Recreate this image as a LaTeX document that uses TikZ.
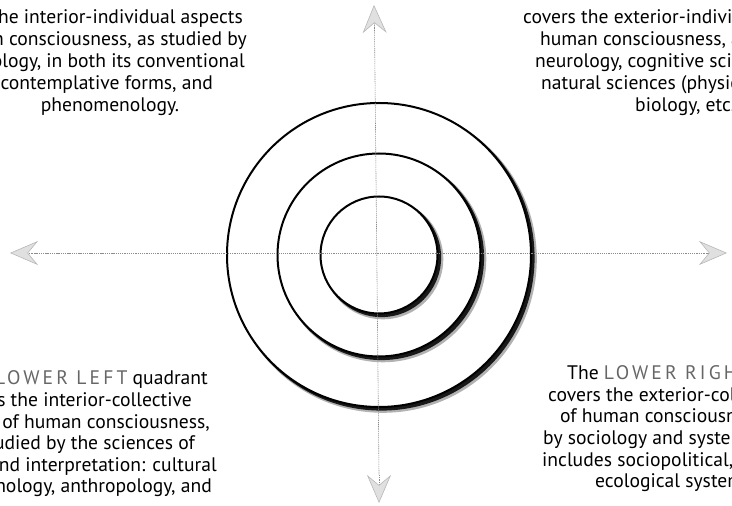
\documentclass[tikz,border=0pt]{standalone}
\usepackage{fontspec}
\setmainfont{PT Sans}
\newfontfamily\capsfont{PT Sans}[LetterSpace=16]
\usetikzlibrary{arrows.meta,calc}
\newcommand{\capsword}[1]{{\capsfont\color{black!60}#1}}
\begin{document}
\begin{tikzpicture}[x=1pt,y=1pt,
  txt/.style={inner sep=0pt, font=\fontsize{19.6}{22}\selectfont},
  axisline/.style={black!45, line width=0.6pt, dash pattern=on 1.3pt off 0.9pt},
  tiphead/.style={-{Stealth[length=28pt,width=24pt,inset=10pt,color=black!28,fill=black!12,line width=0.6pt]}},
  ringline/.style={line width=2pt, black}]
\useasboundingbox (0,0) rectangle (732,506);
\clip (0,0) rectangle (732,506);

\coordinate (c) at (379,251);

% rings with shadow on the lower right
\foreach \r in {152,101.5,58.5}{
  \fill[black!30] ($(c)+(4,-4)$) circle ({\r+1.8});
  \fill[black!90] ($(c)+(2.5,-2.5)$) circle ({\r+1.1});
  \fill[white] (c) circle (\r);
  \draw[ringline] (c) circle (\r);
}

% axes
\coordinate (axL) at (32,253);
\coordinate (axR) at (704,253);
\coordinate (axT) at (374.5,478);
\coordinate (axB) at (379,31);
\coordinate (tipL) at (10,253);
\coordinate (tipR) at (727,253);
\coordinate (tipT) at (374,501);
\coordinate (tipB) at (379,3);
\draw[axisline] (axL) -- (axR);
\draw[axisline] (axT) -- (axB);
\draw[axisline,tiphead] (axL) -- (tipL);
\draw[axisline,tiphead] (axR) -- (tipR);
\draw[axisline,tiphead] (axT) -- (tipT);
\draw[axisline,tiphead] (axB) -- (tipB);

% upper left
\node[txt,anchor=base east] (ul1) at (243,482) {the interior-individual aspects};
\node[txt,anchor=base east] (ul2) at (247,460) {human consciousness, as studied by};
\node[txt,anchor=base east] (ul3) at (245,438) {psychology, in both its conventional};
\node[txt,anchor=base east] (ul4) at (213,416) {contemplative forms, and};
\node[txt,anchor=base] (ul5) at (110,394) {phenomenology.};

% upper right
\node[txt,anchor=base west] (ur1) at (523,482) {covers the exterior-individual};
\node[txt,anchor=base west] (ur2) at (540,460) {human consciousness, as};
\node[txt,anchor=base west] (ur3) at (535,438) {neurology, cognitive science,};
\node[txt,anchor=base west] (ur4) at (541,416) {natural sciences (physics,};
\node[txt,anchor=base west] (ur5) at (635,394) {biology, etc.).};

% lower left
\node[txt,anchor=base east] (ll1) at (208,121) {\capsword{LOWER LEFT} quadrant};
\node[txt,anchor=base east] (ll2) at (192,99) {covers the interior-collective};
\node[txt,anchor=base east] (ll3) at (210,77) {of human consciousness,};
\node[txt,anchor=base east] (ll4) at (195,56) {studied by the sciences of};
\node[txt,anchor=base east] (ll5) at (217,34) {and interpretation: cultural};
\node[txt,anchor=base east] (ll6) at (212,13) {psychology, anthropology, and};

% lower right
\node[txt,anchor=base west] (lr1) at (567,126) {The \capsword{LOWER RIGHT}};
\node[txt,anchor=base west] (lr2) at (548,104) {covers the exterior-collective};
\node[txt,anchor=base west] (lr3) at (560,83) {of human consciousness,};
\node[txt,anchor=base west] (lr4) at (543,61) {by sociology and systems};
\node[txt,anchor=base west] (lr5) at (542,39) {includes sociopolitical, and};
\node[txt,anchor=base west] (lr6) at (595,18) {ecological systems.};
\end{tikzpicture}
\end{document}
